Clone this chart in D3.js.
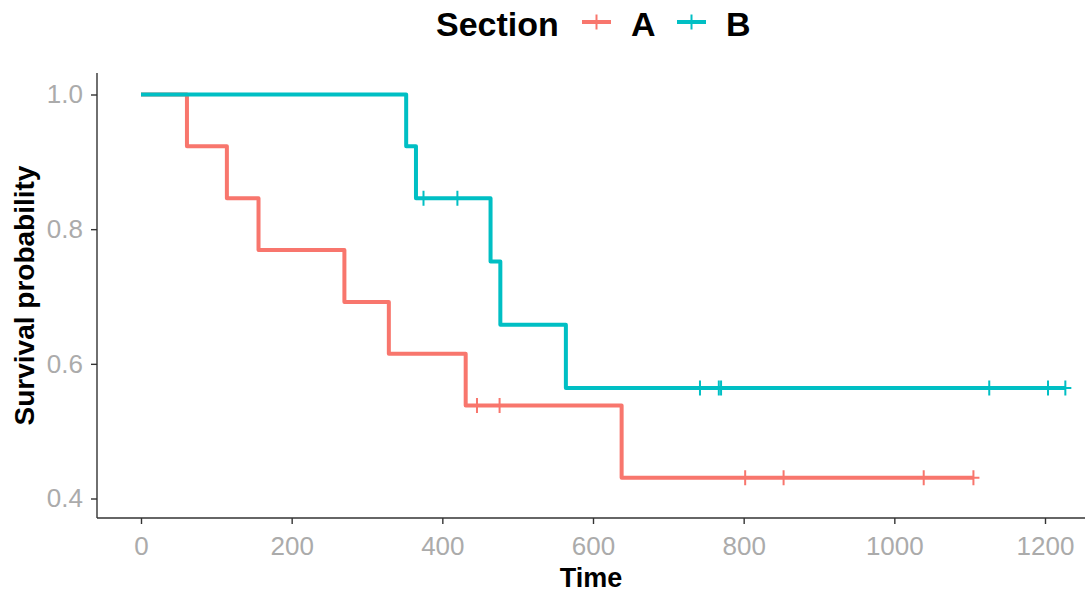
<!DOCTYPE html>
<html>
<head>
<meta charset="utf-8">
<script src="https://cdn.jsdelivr.net/npm/d3@7"></script>
<style>
  body { margin: 0; background: #fff; }
  text { font-family: "Liberation Sans", Arial, sans-serif; }
</style>
</head>
<body>
<script>
// Kaplan-Meier step data
var groups = ['A', 'B'];
var colours = ['#F8766D', '#00BFC4'];

// Section A: step times, survival after each step, censor times
var timesA = [0, 61, 114, 156, 270, 329, 431, 638, 1105];
var survA = [1.0, 0.923, 0.846, 0.769, 0.692, 0.615, 0.538, 0.431, 0.431];
var censorA = [446, 476, 802, 853, 1039, 1105];

// Section B
var timesB = [0, 352, 365, 464, 477, 564, 1227];
var survB = [1.0, 0.923, 0.846, 0.752, 0.658, 0.564, 0.564];
var censorB = [375, 420, 742, 767, 770, 1126, 1204, 1227];

var xTicks = [0, 200, 400, 600, 800, 1000, 1200];
var yTicks = [0.4, 0.6, 0.8, 1.0];

var W = 1088, H = 593;
var panel = { left: 97, right: 1085, top: 73, bottom: 518 };

var svg = d3.select('body').append('svg')
  .attr('width', W)
  .attr('height', H);

var x = d3.scaleLinear().domain([0, 1200]).range([141, 1045]);
var y = d3.scaleLinear().domain([0.4, 1.0]).range([498.5, 94.5]);

function stepPoints(times, surv) {
  return times.map(function (t, i) { return [t, surv[i]]; });
}
var line = d3.line()
  .x(function (d) { return x(d[0]); })
  .y(function (d) { return y(d[1]); })
  .curve(d3.curveStepAfter);

function survAt(times, surv, t) {
  var s = surv[0];
  for (var i = 0; i < times.length; i++) { if (times[i] <= t) s = surv[i]; }
  return s;
}

var series = [
  { name: 'A', times: timesA, surv: survA, cens: censorA, col: colours[0] },
  { name: 'B', times: timesB, surv: survB, cens: censorB, col: colours[1] }
];

series.forEach(function (s) {
  var g = svg.append('g');
  g.append('path')
    .attr('d', line(stepPoints(s.times, s.surv)))
    .attr('fill', 'none')
    .attr('stroke', s.col)
    .attr('stroke-width', 4)
    .attr('stroke-linejoin', 'round');

  g.selectAll('.cens').data(s.cens).enter().append('path')
    .attr('d', function (t) {
      var cx = x(t), cy = y(survAt(s.times, s.surv, t));
      return 'M' + (cx - 6) + ',' + cy + 'H' + (cx + 6) +
        'M' + cx + ',' + (cy - 7.5) + 'V' + (cy + 7.5);
    })
    .attr('stroke', s.col)
    .attr('stroke-width', 2)
    .attr('fill', 'none');
});

// axes
var axisCol = '#333333';
var tickCol = '#ABABAB';

var xAxis = svg.append('g')
  .attr('transform', 'translate(0,' + panel.bottom + ')')
  .call(d3.axisBottom(x).tickValues(xTicks).tickFormat(d3.format('d'))
    .tickSize(6).tickSizeOuter(0).tickPadding(8));
xAxis.select('.domain').remove();
xAxis.append('line')
  .attr('x1', panel.left).attr('x2', panel.right)
  .attr('stroke', axisCol).attr('stroke-width', 1.4);

var yAxis = svg.append('g')
  .attr('transform', 'translate(' + panel.left + ',0)')
  .call(d3.axisLeft(y).tickValues(yTicks).tickFormat(d3.format('.1f')).tickSize(6).tickPadding(8));
yAxis.select('.domain').remove();
yAxis.append('line')
  .attr('y1', panel.top).attr('y2', panel.bottom)
  .attr('stroke', axisCol).attr('stroke-width', 1.4);

[xAxis, yAxis].forEach(function (a) {
  a.selectAll('.tick line').attr('stroke', axisCol).attr('stroke-width', 1.4);
  a.selectAll('.tick text')
    .attr('fill', tickCol)
    .style('font-size', '26px')
    .style('font-family', '"Liberation Sans", Arial, sans-serif');
});
xAxis.selectAll('.tick text').attr('dy', '0.9em');

// titles
svg.append('text')
  .attr('x', (panel.left + panel.right) / 2)
  .attr('y', 587)
  .attr('text-anchor', 'middle')
  .style('font-size', '27px')
  .style('font-weight', 'bold')
  .text('Time');

svg.append('text')
  .attr('transform', 'translate(34,' + (panel.top + panel.bottom) / 2 + ') rotate(-90)')
  .attr('text-anchor', 'middle')
  .style('font-size', '28px')
  .style('font-weight', 'bold')
  .text('Survival probability');

// legend
var leg = svg.append('g');
leg.append('text')
  .attr('x', 436).attr('y', 36)
  .style('font-size', '34px')
  .style('font-weight', 'bold')
  .text('Section');

var keyX = [582, 677];
groups.forEach(function (gname, i) {
  var kx = keyX[i], ky = 22;
  leg.append('line')
    .attr('x1', kx).attr('x2', kx + 29).attr('y1', ky).attr('y2', ky)
    .attr('stroke', colours[i]).attr('stroke-width', 4);
  leg.append('line')
    .attr('x1', kx + 14.5).attr('x2', kx + 14.5).attr('y1', ky - 7.5).attr('y2', ky + 7.5)
    .attr('stroke', colours[i]).attr('stroke-width', 2);
  leg.append('text')
    .attr('x', kx + 49).attr('y', 36)
    .style('font-size', '34px')
    .style('font-weight', 'bold')
    .text(gname);
});
</script>
</body>
</html>
